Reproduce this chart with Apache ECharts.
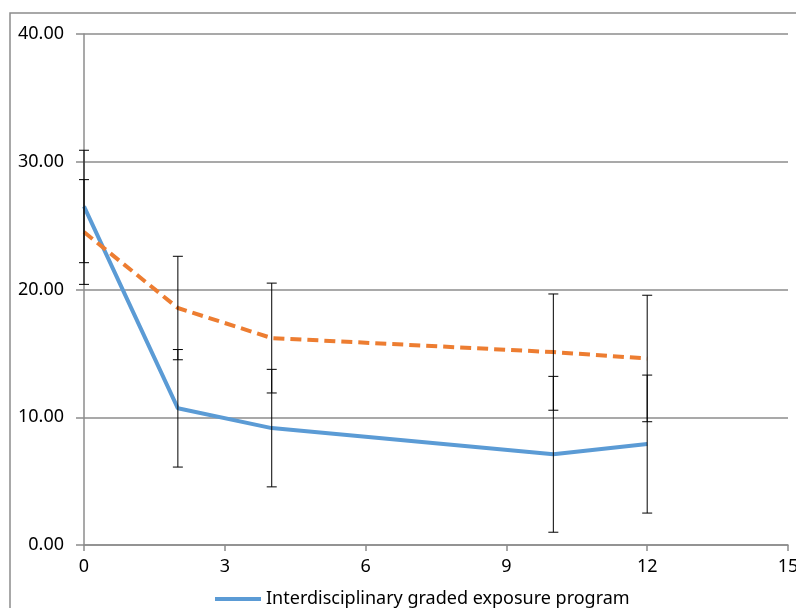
<!DOCTYPE html>
<html>
<head>
<meta charset="utf-8">
<script src="https://cdn.jsdelivr.net/npm/echarts@6/dist/echarts.min.js"></script>
<style>
  html, body { margin: 0; padding: 0; background: #fff; }
  #chart { width: 796px; height: 608px; }
</style>
</head>
<body>
<div id="chart"></div>
<script>
// time points (weeks)
const weeks = [0, 2, 4, 10, 12];
const xTicks = [0, 3, 6, 9, 12, 15];

// interdisciplinary graded exposure program
const programMean = [26.5, 10.7, 9.15, 7.1, 7.9];
const programSd = [4.4, 4.6, 4.6, 6.1, 5.4];

// comparison group (legend entry cut off in the source)
const controlMean = [24.5, 18.55, 16.2, 15.1, 14.6];
const controlSd = [4.1, 4.05, 4.3, 4.55, 4.95];

const FONT = "'Noto Sans', sans-serif";
const GRAY = '#8c8c8c';

const chart = echarts.init(document.getElementById('chart'));

function pairs(means) {
  return weeks.map((w, i) => [w, means[i]]);
}
function errData(means, sds) {
  return weeks.map((w, i) => [w, means[i] - sds[i], means[i] + sds[i]]);
}

function renderErr(params, api) {
  const x = api.value(0);
  const lo = api.coord([x, api.value(1)]);
  const hi = api.coord([x, api.value(2)]);
  const cap = 5;
  const style = { stroke: '#000', lineWidth: 1 };
  return {
    type: 'group',
    children: [
      { type: 'line', shape: { x1: lo[0], y1: lo[1], x2: hi[0], y2: hi[1] }, style },
      { type: 'line', shape: { x1: lo[0] - cap, y1: lo[1], x2: lo[0] + cap, y2: lo[1] }, style },
      { type: 'line', shape: { x1: hi[0] - cap, y1: hi[1], x2: hi[0] + cap, y2: hi[1] }, style }
    ]
  };
}

chart.setOption({
  animation: false,
  textStyle: { fontFamily: FONT },
  graphic: [{
    type: 'rect',
    shape: { x: 10, y: 13, width: 900, height: 700 },
    style: { fill: 'none', stroke: GRAY, lineWidth: 1.5 },
    z: -1
  }],
  grid: { left: 84, right: 8, top: 34, bottom: 63, outerBoundsMode: 'none' },
  legend: {
    data: ['Interdisciplinary graded exposure program'],
    left: 210,
    top: 585,
    icon: 'rect',
    itemWidth: 46,
    itemHeight: 4,
    itemGap: 4,
    textStyle: { fontSize: 18, color: '#000', fontFamily: FONT }
  },
  xAxis: {
    type: 'value',
    min: 0,
    max: 15,
    interval: 3,
    axisLine: { lineStyle: { color: GRAY, width: 1.5 } },
    axisTick: { show: true, length: 6, lineStyle: { color: GRAY, width: 1.5 } },
    axisLabel: {
      color: '#000', fontSize: 18, margin: 13,
      customValues: xTicks
    },
    splitLine: { show: false }
  },
  yAxis: {
    type: 'value',
    min: 0,
    max: 40,
    interval: 10,
    axisLine: { show: true, lineStyle: { color: GRAY, width: 1.5 } },
    axisTick: { show: true, length: 8, lineStyle: { color: GRAY, width: 1.5 } },
    axisLabel: {
      color: '#000', fontSize: 18, margin: 20,
      formatter: v => v.toFixed(2)
    },
    splitLine: { lineStyle: { color: GRAY, width: 1.5 } }
  },
  series: [
    {
      name: 'Interdisciplinary graded exposure program',
      type: 'line',
      data: pairs(programMean),
      symbol: 'none',
      lineStyle: { color: '#5b9bd5', width: 4 },
      itemStyle: { color: '#5b9bd5' },
      z: 3
    },
    {
      name: 'Control',
      type: 'line',
      data: pairs(controlMean),
      symbol: 'none',
      lineStyle: { color: '#ed7d31', width: 4, type: [11, 6] },
      itemStyle: { color: '#ed7d31' },
      z: 3
    },
    {
      type: 'custom',
      data: errData(programMean, programSd),
      renderItem: renderErr,
      z: 5
    },
    {
      type: 'custom',
      data: errData(controlMean, controlSd),
      renderItem: renderErr,
      z: 5
    }
  ]
});
</script>
</body>
</html>
